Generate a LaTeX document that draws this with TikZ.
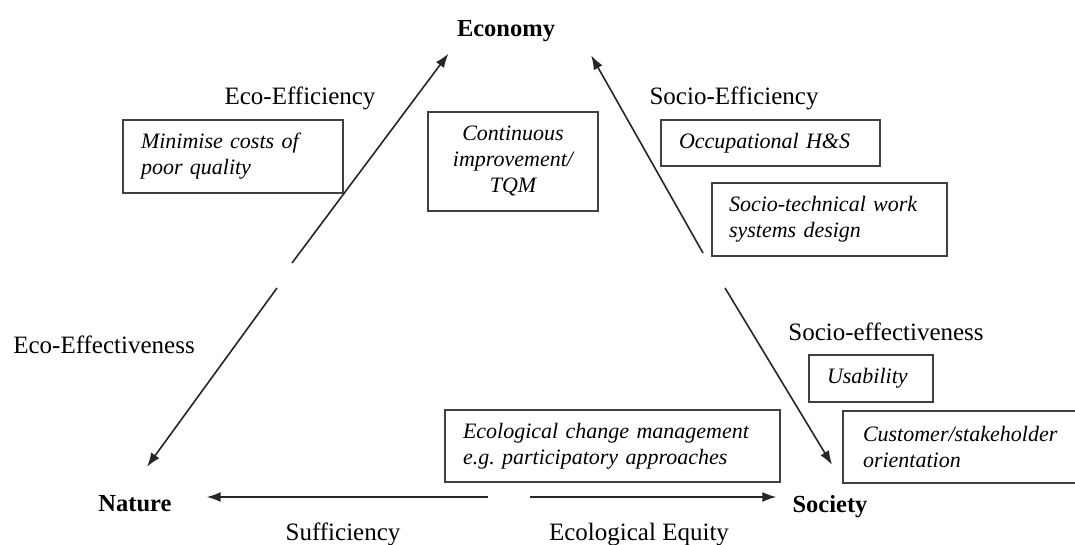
\documentclass[tikz,border=0pt]{standalone}
\usepackage{fontspec}
\setmainfont{Liberation Serif}
\usetikzlibrary{arrows.meta,calc}

\begin{document}
\begin{tikzpicture}[x=1pt, y=-1pt, >={Latex[length=14pt,width=10pt]},
    pole/.style={font=\bfseries\fontsize{24.5}{28}\selectfont, inner sep=0pt, anchor=base},
    lbl/.style={font=\fontsize{25}{28}\selectfont, inner sep=0pt, anchor=base},
    box/.style={draw=black!75, line width=1.4pt, font=\itshape\fontsize{22}{26}\selectfont,
                align=left, inner xsep=18pt, inner ysep=0pt},
    arr/.style={->, line width=1.6pt, draw=black!85}]
            \useasboundingbox (0,0) rectangle (1075,545);
            \clip (0,0) rectangle (1075,545);
            % corners of the triangle
            \node[pole] (economy) at (506,37) {Economy};
            \node[pole] (nature) at (135,511) {Nature};
            \node[pole] (society) at (830,512) {Society};
            % side labels
            \node[lbl] (ecoeffcy) at (300,105) {Eco-Efficiency};
            \node[lbl] (soceffcy) at (734,105) {Socio-Efficiency};
            \node[lbl] (ecoeffness) at (104,353) {Eco-Effectiveness};
            \node[lbl] (soceffness) at (886,340) {Socio-effectiveness};
            \node[lbl] (sufficiency) at (343,540) {Sufficiency};
            \node[lbl] (equitylbl) at (639,540) {Ecological Equity};
            % boxes
            \node[box, text width=184pt, minimum height=73pt] (mincost) at (233,156.5)
                {Minimise costs of\\poor quality};
            \node[box, text width=138pt, minimum height=99pt, align=center, inner xsep=16pt] (contimp) at (513,161.5)
                {Continuous\\improvement/\\TQM};
            \node[box, text width=183pt, minimum height=46pt] (occhs) at (770.5,143)
                {Occupational H\&S};
            \node[box, text width=201pt, minimum height=73pt, inner xsep=17pt] (socitech) at (829.5,219.5)
                {Socio-technical work\\systems design};
            \node[box, text width=88pt, minimum height=47pt] (usab) at (871,378.5)
                {Usability};
            \node[box, text width=230pt, minimum height=72pt, inner xsep=20pt] (custom) at (978,447)
                {Customer/stakeholder\\orientation};
            \node[box, text width=299pt, minimum height=72pt] (ecochg) at (612.5,446)
                {Ecological change management\\e.g.\ participatory approaches};
            % arrow tails
            \coordinate (ecotail) at (292,263);
            \coordinate (natail) at (277,288);
            \coordinate (soctail) at (703,253);
            \coordinate (sctail) at (725,288);
            \coordinate (sufftail) at (488,497);
            \coordinate (eqtail) at (530,497);
            % arrows
            \draw[arr, shorten >=14pt] (ecotail) -- (economy.south west);
            \draw[arr] (soctail) -- ($(economy.south east)+(36,13)$);
            \draw[arr] (natail) -- ($(nature.north)+(12,-28)$);
            \draw[arr] (sctail) -- ($(society.north)+(2,-30)$);
            \draw[arr, shorten >=35pt] (sufftail) -- (sufftail -| nature.east);
            \draw[arr, shorten >=16pt] (eqtail) -- (eqtail -| society.west);
          \end{tikzpicture}
\end{document}
